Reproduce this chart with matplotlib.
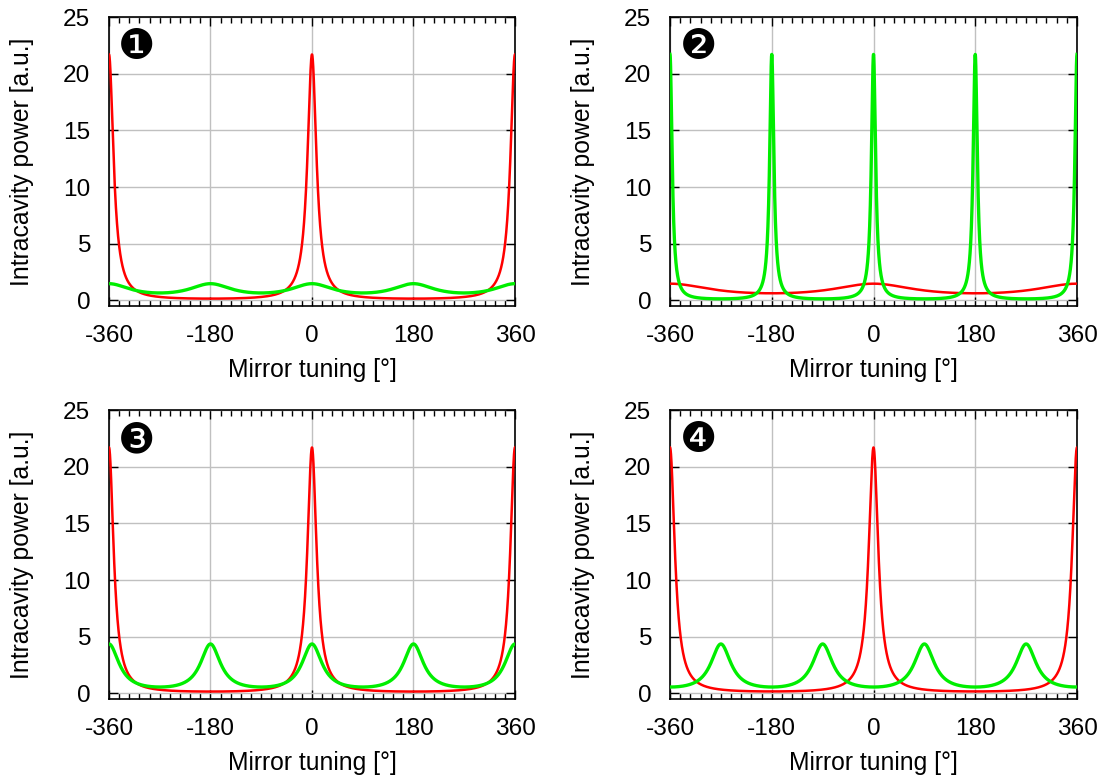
import numpy as np
import matplotlib
matplotlib.use("Agg")
import matplotlib.pyplot as plt
from matplotlib.ticker import MultipleLocator

plt.rcParams["font.family"] = ["Liberation Sans", "DejaVu Sans"]

# Panel markers and axis text
panel_marks = ["\u2776", "\u2777", "\u2778", "\u2779"]
x_label = "Mirror tuning [\u00b0]"
y_label = "Intracavity power [a.u.]"
x_ticks = [-360, -180, 0, 180, 360]
y_ticks = [0, 5, 10, 15, 20, 25]

# Resonance parameters for each panel: peak power, power between peaks,
# period of the resonance in mirror tuning [deg] and position of one peak [deg]
red_peak = [21.7, 1.47, 21.7, 21.7]
red_trough = [0.15, 0.62, 0.16, 0.17]
red_period = [360, 360, 360, 360]
red_centre = [0, 0, 0, 0]

green_peak = [1.47, 21.7, 4.36, 4.36]
green_trough = [0.65, 0.13, 0.56, 0.56]
green_period = [180, 180, 180, 180]
green_centre = [0, 0, 0, 90]

RED = "#ff0000"
GREEN = "#00ee00"


def airy(tuning, peak, trough, period, centre):
    """Cavity power of an Airy resonance, given its maximum and minimum."""
    finesse_coeff = peak / trough - 1.0
    phase = np.pi * (tuning - centre) / period
    return peak / (1.0 + finesse_coeff * np.sin(phase) ** 2)


tuning = np.linspace(-360, 360, 7201)

fig = plt.figure(figsize=(11.02, 7.78), dpi=100)
positions = [
    [0.0989, 0.6067, 0.3684, 0.3714],
    [0.6080, 0.6067, 0.3693, 0.3714],
    [0.0989, 0.1015, 0.3684, 0.3714],
    [0.6080, 0.1015, 0.3693, 0.3714],
]

for i, pos in enumerate(positions):
    ax = fig.add_axes(pos)
    red = airy(tuning, red_peak[i], red_trough[i], red_period[i], red_centre[i])
    green = airy(tuning, green_peak[i], green_trough[i], green_period[i], green_centre[i])
    ax.plot(tuning, red, color=RED, lw=1.8, zorder=3)
    ax.plot(tuning, green, color=GREEN, lw=2.4, zorder=4)

    ax.set_xlim(-360, 360)
    ax.set_ylim(-0.5, 25)
    ax.set_xticks(x_ticks)
    ax.set_xticklabels([str(t) for t in x_ticks])
    ax.set_yticks(y_ticks)
    ax.xaxis.set_minor_locator(MultipleLocator(18))
    ax.grid(True, which="major", color="#c0c0c0", lw=1.0, zorder=0)
    ax.set_axisbelow(True)

    ax.tick_params(which="both", direction="in", top=True, right=True,
                   labelsize=17.6, pad=13.5, color="black")
    ax.tick_params(which="major", length=6.5, width=1.0)
    ax.tick_params(which="minor", length=4, width=1.0)
    for sp in ax.spines.values():
        sp.set_linewidth(1.2)

    ax.set_xlabel(x_label, fontsize=17.8, labelpad=8)
    ax.set_ylabel(y_label, fontsize=17.8)
    ax.yaxis.set_label_coords(-0.185, 0.5)

    ax.text(0.069, 0.896, panel_marks[i], transform=ax.transAxes,
            fontsize=30, family=["DejaVu Sans"], ha="center", va="center",
            zorder=6)

fig.savefig("out.png", dpi=100)
